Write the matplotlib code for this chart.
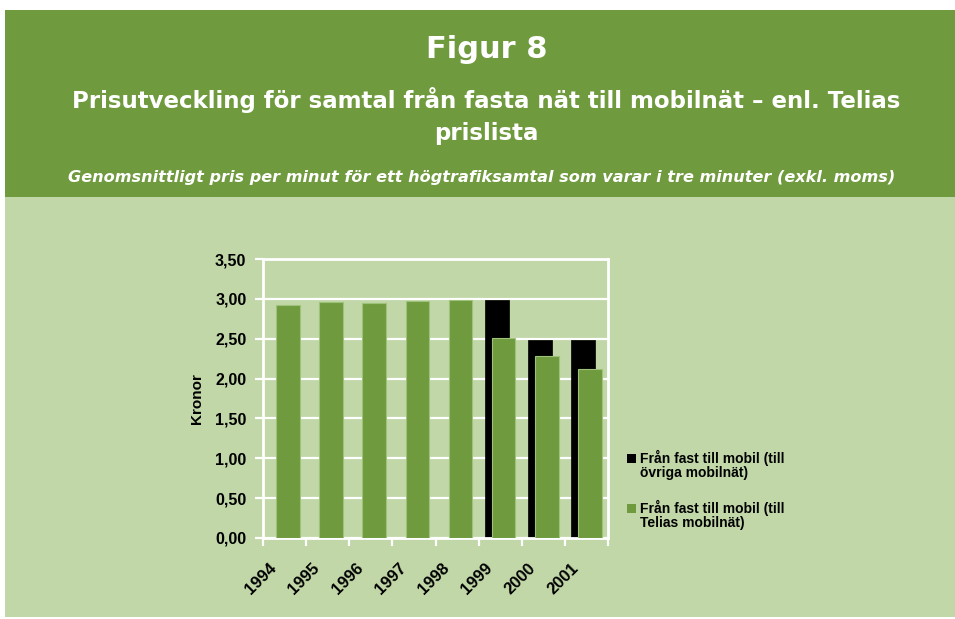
import matplotlib
matplotlib.use("Agg")
import matplotlib.pyplot as plt
import matplotlib.transforms as mtransforms
from matplotlib.patches import Rectangle
from matplotlib.ticker import FuncFormatter, FixedLocator
import numpy as np

years = ["1994", "1995", "1996", "1997", "1998", "1999", "2000", "2001"]
ovriga = [None, None, None, None, None, 2.99, 2.48, 2.48]
telias = [2.92, 2.96, 2.95, 2.97, 2.99, 2.51, 2.28, 2.12]
yticks = [0, 0.5, 1.0, 1.5, 2.0, 2.5, 3.0, 3.5]
legend_labels = ["Från fast till mobil (till\növriga mobilnät)",
                 "Från fast till mobil (till\nTelias mobilnät)"]
title_fig = "Figur 8"
title_line1 = "Prisutveckling för samtal från fasta nät till mobilnät – enl. Telias"
title_line2 = "prislista"
subtitle = "Genomsnittligt pris per minut för ett högtrafiksamtal som varar i tre minuter (exkl. moms)"

DARK = "#6f9a3e"
LIGHT = "#c1d7a7"
W, H = 955, 619

fig = plt.figure(figsize=(W / 100, H / 100), dpi=100, facecolor="white")
fig.patches.append(Rectangle((0, 0), 1, 1, transform=fig.transFigure, facecolor="white", edgecolor="none", zorder=-3))
fig.patches.append(Rectangle((5 / W, 2 / H), 1 - 5 / W, 1 - 197 / H - 2 / H, transform=fig.transFigure,
                             facecolor=LIGHT, edgecolor="none", zorder=-2))
fig.patches.append(Rectangle((5 / W, 1 - 197 / H), 1 - 5 / W, 187 / H, transform=fig.transFigure,
                             facecolor=DARK, edgecolor="none", zorder=-2))

hfont = "DejaVu Sans"
fig.text(486.5 / W, 1 - 58 / H, title_fig, color="white", fontsize=22, fontweight="bold",
         family=hfont, ha="center", va="baseline")
fig.text(486.5 / W, 1 - 108 / H, title_line1, color="white", fontsize=16.5, fontweight="bold",
         family=hfont, ha="center", va="baseline")
fig.text(486.5 / W, 1 - 140 / H, title_line2, color="white", fontsize=16.5, fontweight="bold",
         family=hfont, ha="center", va="baseline")
fig.text(481.5 / W, 1 - 182 / H, subtitle, color="white", fontsize=11.6, fontweight="bold",
         style="italic", family=hfont, ha="center", va="baseline")

ax = fig.add_axes([263 / W, 1 - 538 / H, 345 / W, 279 / H])
ax.patch.set_alpha(0)

x = np.arange(len(years))
bw = 0.55
off = 0.08
ov_x = [xi - off for xi, v in zip(x, ovriga) if v is not None]
ov_v = [v for v in ovriga if v is not None]
b1 = ax.bar(ov_x, ov_v, width=bw, color="black", edgecolor="black", linewidth=0.5, zorder=2)
b2 = ax.bar(x + off, telias, width=bw, color=DARK, edgecolor="#9fc27a", linewidth=0.8, zorder=3)

ax.set_xlim(-0.5, len(years) - 0.5)
ax.set_ylim(0, 3.5)
ax.set_yticks(yticks)
ax.yaxis.set_major_formatter(FuncFormatter(lambda v, p: f"{v:.2f}".replace(".", ",")))
ax.grid(axis="y", color="white", linewidth=1.6, zorder=1)
ax.set_axisbelow(True)

ax.xaxis.set_major_locator(FixedLocator(np.arange(-0.5, len(years), 1.0)))
ax.xaxis.set_major_formatter(FuncFormatter(lambda v, p: ""))
ax.xaxis.set_minor_locator(FixedLocator(x))
ax.set_xticklabels(years, minor=True)
ax.tick_params(axis="x", which="major", direction="out", length=6, width=1.6, color="white")
ax.tick_params(axis="x", which="minor", length=0, pad=16)
ax.tick_params(axis="y", direction="out", length=6, width=1.6, color="white", pad=6)

for lab in ax.get_xticklabels(minor=True):
    lab.set_rotation(45)
    lab.set_ha("right")
    lab.set_fontsize(12)
    lab.set_fontweight("bold")
    lab.set_family("Liberation Sans")
    lab.set_transform(lab.get_transform() + mtransforms.ScaledTranslation(-5 / 100, 0, fig.dpi_scale_trans))
for lab in ax.get_yticklabels():
    lab.set_fontsize(11.5)
    lab.set_fontweight("bold")
    lab.set_family("Liberation Sans")

for s in ax.spines.values():
    s.set_color("white")
    s.set_linewidth(2)

ax.set_ylabel("Kronor", fontsize=11, fontweight="bold", family="Liberation Sans")
ax.yaxis.set_label_coords(-0.171, 0.5)

# legend: markers aligned with the first line of each (two-line) label
leg_colors = [b1.patches[0].get_facecolor(), b2.patches[0].get_facecolor()]
first_baselines = [463, 513]
for lbl, col, yb in zip(legend_labels, leg_colors, first_baselines):
    fig.patches.append(Rectangle((627 / W, 1 - (yb - 0.5) / H), 8.5 / W, 8.5 / H,
                                 transform=fig.transFigure, facecolor=col, edgecolor="none"))
    n_lines = lbl.count("\n")
    fig.text(640 / W, 1 - (yb + 14.5 * n_lines) / H, lbl, fontsize=10, fontweight="bold",
             family="Liberation Sans", ha="left", va="baseline", linespacing=1.0)

fig.savefig("out.png", dpi=100, facecolor="white")
